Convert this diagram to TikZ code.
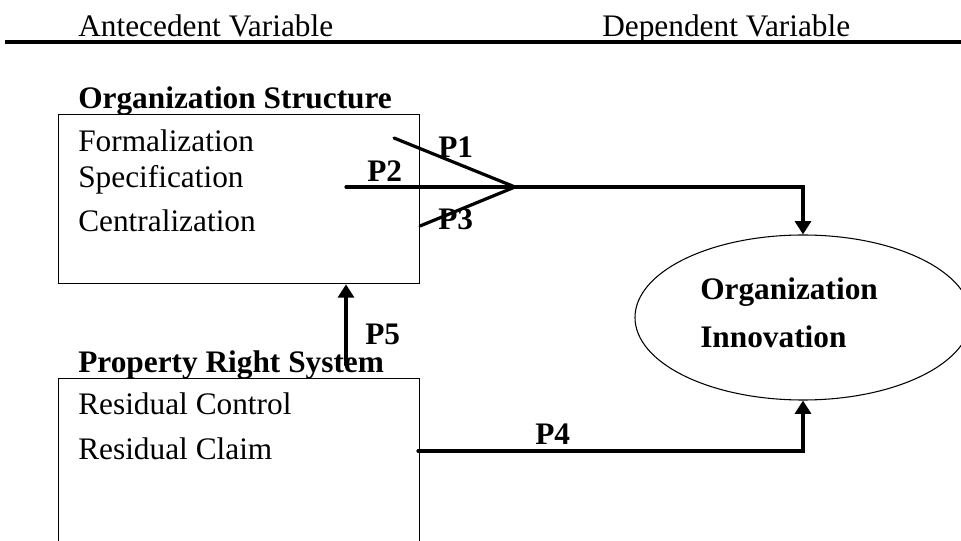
\documentclass[tikz,border=0pt]{standalone}
\usepackage{fontspec}
\setmainfont{Liberation Serif}
\usetikzlibrary{positioning,
				arrows.meta,
				shapes.geometric}

\begin{document}
\begin{tikzpicture}[x=0.75pt, y=-0.75pt,
	every node/.style={font=\fontsize{23.5}{28}\selectfont, inner sep=0pt, anchor=base west},
	ttl/.style={font=\fontsize{23.5}{28}\selectfont\bfseries},
	varbox/.style={draw, line width=1pt, rectangle, anchor=north west, minimum width=270.75pt},
	conn/.style={line width=2.4pt, line cap=round},
	tip/.style={-{Triangle[width=12pt,length=10pt]}}]
	\clip (0,0) rectangle (961,541);
	% header
	\node (antec) at (78,37) {Antecedent Variable};
	\node (depend) at (602,37) {Dependent Variable};
	\draw[line width=3pt] (5,42) -- (961,42);
	% antecedent boxes
	\node[varbox, minimum height=126.75pt] (struct) at (58,114) {};
	\node[ttl] (structttl) at (78,109) {Organization Structure};
	\node (formal) at (78,152) {Formalization};
	\node (spec) at (78,188) {Specification};
	\node (central) at (78,232) {Centralization};
	\node[varbox, minimum height=140pt] (prop) at (58,378) {};
	\node[ttl] (propttl) at (78,373) {Property Right System};
	\node (rcontrol) at (78,415) {Residual Control};
	\node (rclaim) at (78,460) {Residual Claim};
	% dependent
	\node[draw, line width=0.8pt, ellipse, anchor=center, minimum width=252pt, minimum height=123.75pt] (innov) at (803,317.5) {};
	\node[ttl] (innovA) at (700,300) {Organization};
	\node[ttl] (innovB) at (700,348) {Innovation};
	% paths
	\coordinate (apex) at (515,187);
	\coordinate (p1) at (394,138);
	\coordinate (p2) at (346,187);
	\coordinate (p3) at (420,226);
	\coordinate (p4) at (418,451);
	\coordinate (p5) at (346,365);
	\draw[conn] (p1) -- (apex);
	\draw[conn] (p2) -- (apex);
	\draw[conn] (p3) -- (apex);
	\draw[conn, tip] (apex) -| (innov.north);
	\draw[conn, tip] (p4) -| (innov.south);
	\draw[conn, tip] (p5) -- (p5 |- struct.south);
	\node[ttl] (lp1) at (438,158) {P1};
	\node[ttl] (lp2) at (367,182) {P2};
	\node[ttl] (lp3) at (438,230) {P3};
	\node[ttl] (lp4) at (535,445) {P4};
	\node[ttl] (lp5) at (365,345) {P5};
\end{tikzpicture}
\end{document}
